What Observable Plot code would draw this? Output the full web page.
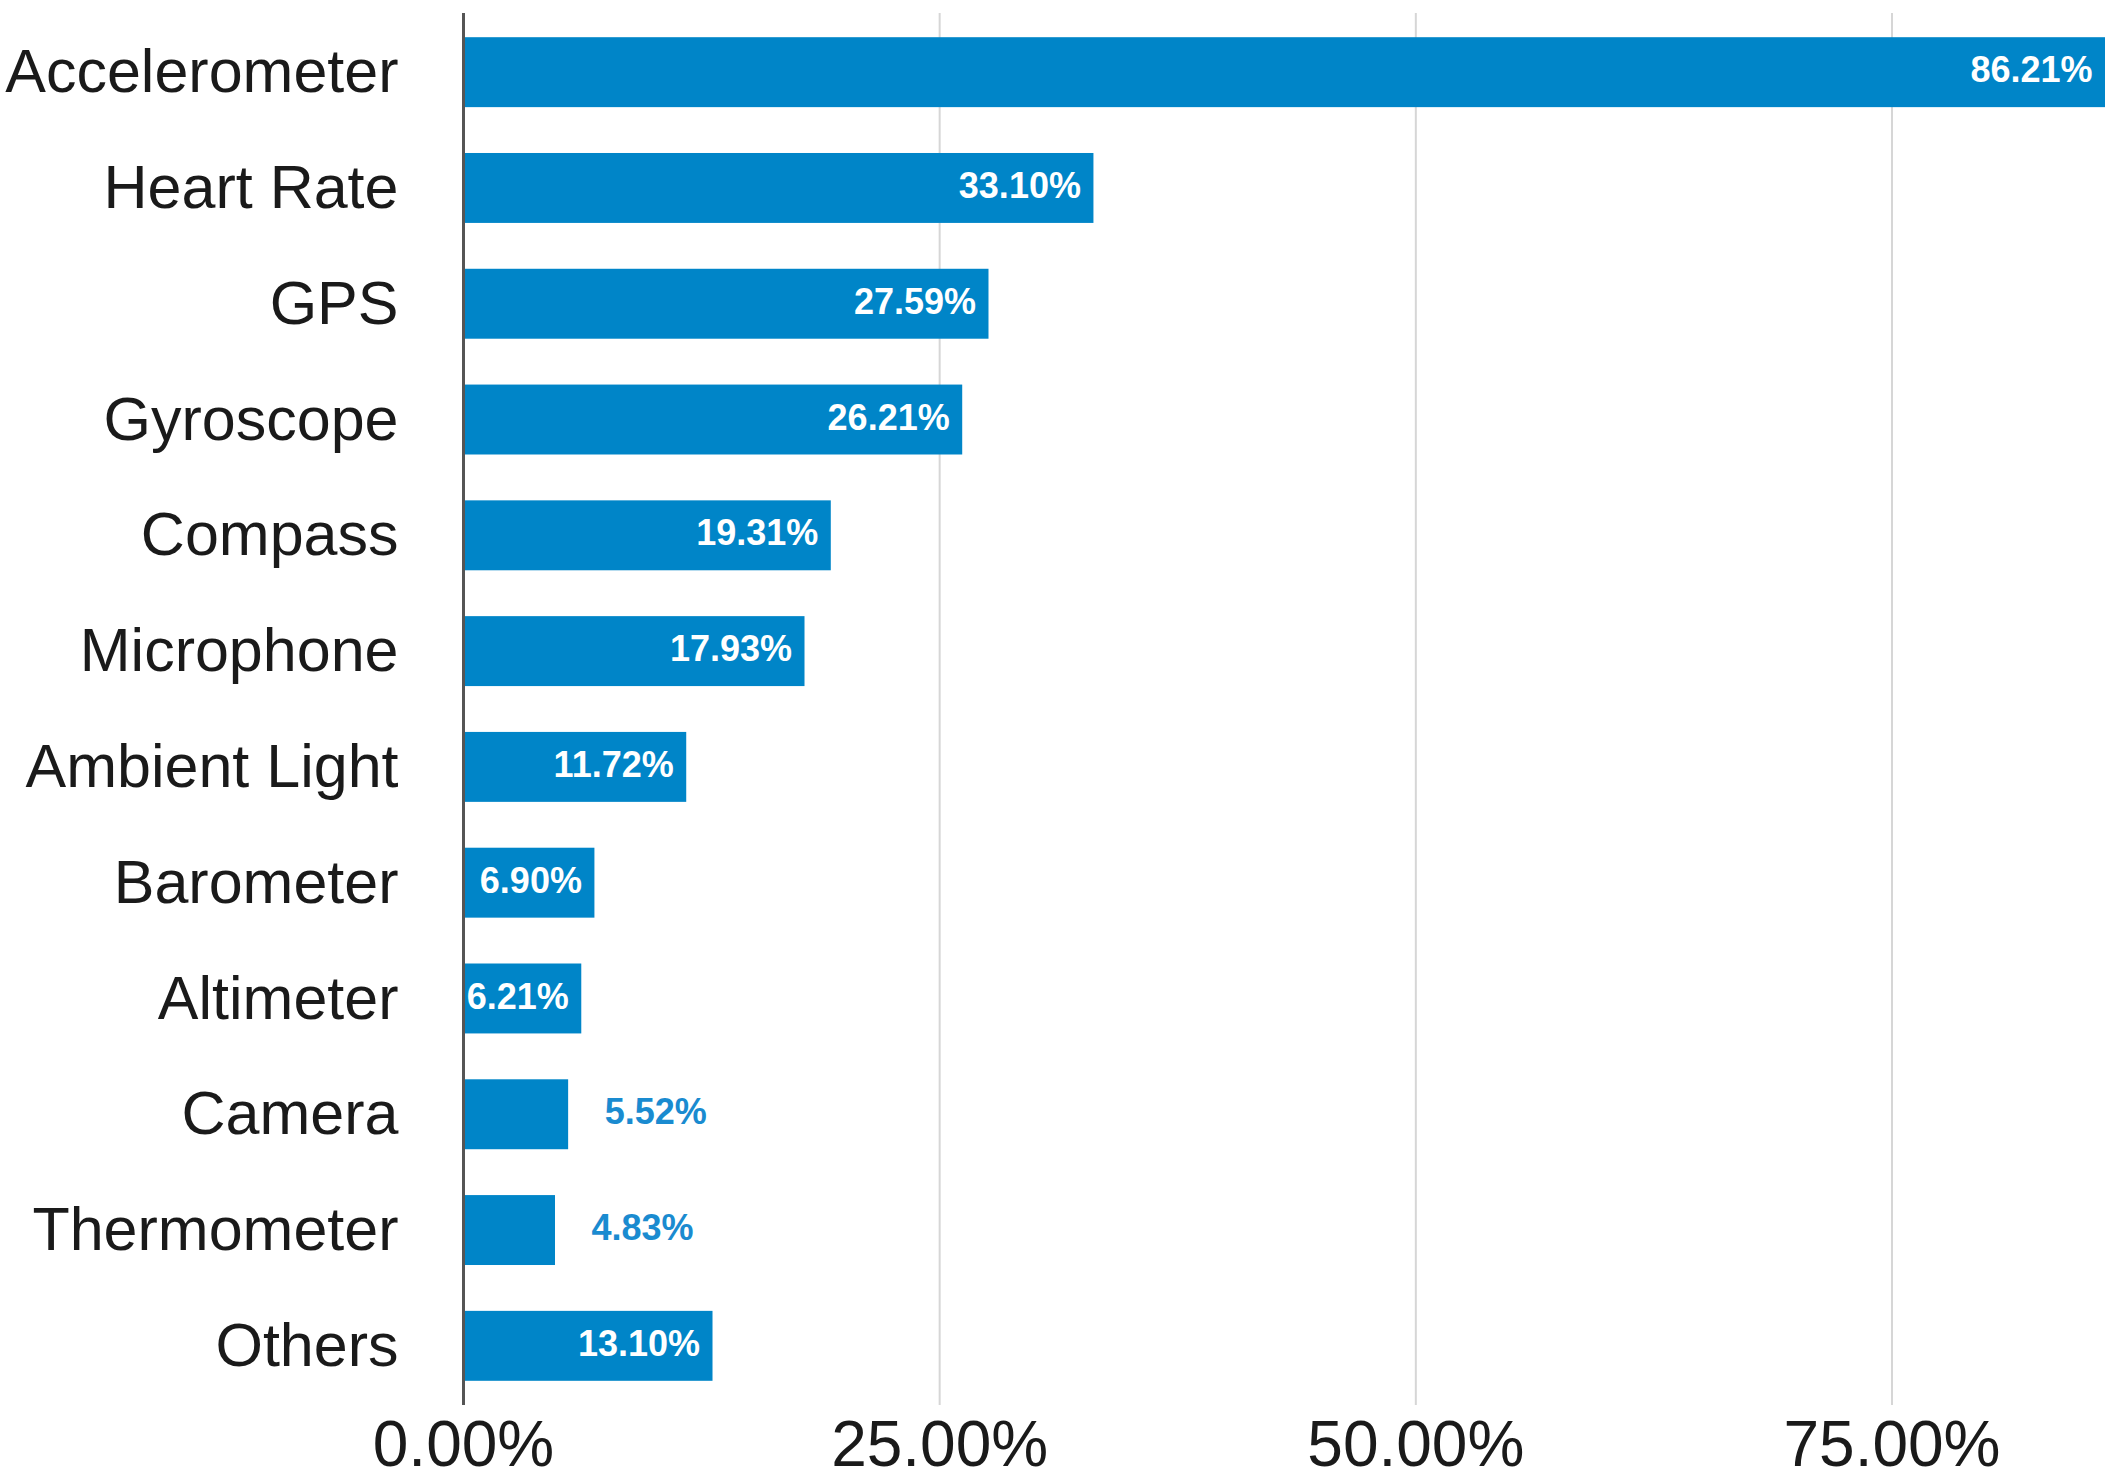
<!DOCTYPE html>
<html>
<head>
<meta charset="utf-8">
<script src="https://cdn.jsdelivr.net/npm/d3@7"></script>
<script src="https://cdn.jsdelivr.net/npm/@observablehq/plot@0.6"></script>
<style>
  html, body { margin: 0; padding: 0; background: #fff; }
  #chart svg { display: block; }
</style>
</head>
<body>
<div id="chart"></div>
<script>
const categories = ["Accelerometer", "Heart Rate", "GPS", "Gyroscope", "Compass", "Microphone", "Ambient Light", "Barometer", "Altimeter", "Camera", "Thermometer", "Others"];
const values = [86.21, 33.10, 27.59, 26.21, 19.31, 17.93, 11.72, 6.90, 6.21, 5.52, 4.83, 13.10];
const xTicks = [0, 25, 50, 75];

const data = categories.map((c, i) => ({category: c, value: values[i]}));
const inside = data.filter(d => d.value >= 6);
const outside = data.filter(d => d.value < 6);
const fmt = v => v.toFixed(2) + "%";

const chart = Plot.plot({
  width: 2110,
  height: 1482,
  marginTop: 13,
  marginBottom: 77,
  marginLeft: 463,
  marginRight: 5,
  style: {fontFamily: "'Liberation Sans', Arial, sans-serif", background: "#fff", color: "#1a1a1a"},
  x: {domain: [0, 86.21]},
  y: {domain: categories, paddingInner: 0.396, paddingOuter: 0.209, round: false},
  marks: [
    Plot.gridX(xTicks, {stroke: "#d6d6d6", strokeOpacity: 1, strokeWidth: 2}),
    Plot.barX(data, {x: "value", y: "category", fill: "#0085c8"}),
    Plot.ruleX([0], {stroke: "#555", strokeWidth: 3}),
    Plot.text(inside, {x: "value", y: "category", text: d => fmt(d.value), textAnchor: "end", dx: -13, dy: -2, fill: "#fff", fontWeight: "bold", fontSize: 36}),
    Plot.text(outside, {x: "value", y: "category", text: d => fmt(d.value), textAnchor: "start", dx: 36, dy: -2, fill: "#1a8bd0", fontWeight: "bold", fontSize: 36}),
    Plot.axisX(xTicks, {tickSize: 0, tickPadding: 15, tickFormat: d => d.toFixed(2) + "%", fontSize: 64, fontFamily: "'Liberation Sans Narrow', 'Liberation Sans', Arial, sans-serif", label: null}),
    Plot.axisY({tickSize: 0, tickPadding: 65, fontSize: 61, label: null})
  ]
});
document.getElementById("chart").appendChild(chart);
</script>
</body>
</html>
